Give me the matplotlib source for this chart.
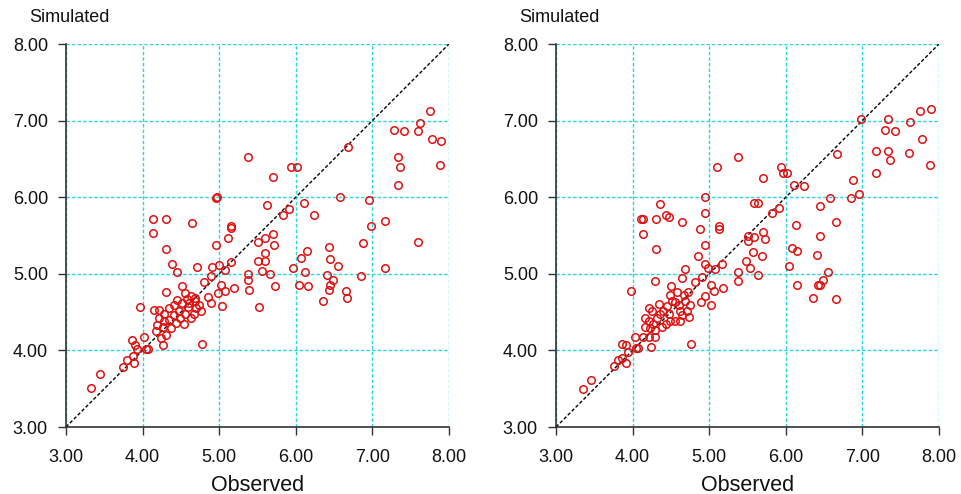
import numpy as np
import matplotlib
matplotlib.use("Agg")
import matplotlib.pyplot as plt

plt.rcParams["font.family"] = ["Liberation Sans", "DejaVu Sans"]

# (observed, simulated) pairs
left_pts = [
    (3.33, 3.51), (3.44, 3.69), (3.75, 3.78), (3.80, 3.87), (3.87, 3.93), (3.89, 3.83),
    (3.86, 4.14), (3.90, 4.07), (3.93, 4.02), (4.05, 4.02), (4.07, 4.02), (4.02, 4.17),
    (3.97, 4.57), (4.31, 5.33), (4.96, 5.37), (5.11, 5.47), (5.15, 5.60),
    (5.15, 5.62), (5.37, 6.52), (4.96, 5.99), (4.97, 6.00), (5.63, 5.90), (4.13, 5.72),
    (4.31, 5.72), (4.14, 5.53), (4.64, 5.66),
    (4.38, 5.13), (4.45, 5.02), (4.71, 5.09), (4.91, 5.09), (5.00, 5.12), (5.07, 5.05),
    (5.16, 5.15), (4.89, 4.97), (4.80, 4.89), (5.03, 4.86), (5.19, 4.81), (5.07, 4.77),
    (4.98, 4.75), (5.38, 5.00), (5.38, 4.92), (5.39, 4.79), (5.04, 4.58), (4.89, 4.62),
    (4.86, 4.70), (4.51, 4.84), (4.30, 4.76), (4.55, 4.75), (4.63, 4.71), (4.69, 4.64),
    (4.74, 4.59), (4.76, 4.51), (4.67, 4.48), (4.59, 4.57), (4.52, 4.62), (4.45, 4.66),
    (4.41, 4.59), (4.34, 4.55), (4.28, 4.48), (4.21, 4.42), (4.15, 4.53), (4.19, 4.33),
    (4.26, 4.31), (4.35, 4.40), (4.41, 4.46), (4.49, 4.42), (4.56, 4.48), (4.63, 4.42),
    (4.54, 4.35), (4.37, 4.29), (4.31, 4.20), (4.24, 4.16), (4.17, 4.25), (4.26, 4.07),
    (4.77, 4.08), (4.22, 4.53), (4.47, 4.52), (4.60, 4.62), (4.70, 4.55), (4.44, 4.36),
    (4.28, 4.38), (4.68, 4.68), (4.58, 4.67),
    (5.83, 5.77), (5.91, 5.85), (6.11, 5.92), (6.24, 5.77), (6.98, 5.63), (7.17, 5.69),
    (7.60, 5.42), (7.17, 5.07), (5.51, 5.42), (5.60, 5.47), (5.70, 5.52), (5.71, 5.38),
    (5.60, 5.27), (5.51, 5.17), (5.60, 5.17), (5.56, 5.04), (5.66, 5.00), (5.73, 4.84),
    (5.52, 4.57), (5.96, 5.07), (6.07, 5.20), (6.14, 5.30), (6.12, 5.03), (6.04, 4.86),
    (6.16, 4.84), (6.43, 5.35), (6.45, 5.19), (6.55, 5.10), (6.41, 4.99), (6.49, 4.92),
    (6.45, 4.85), (6.43, 4.79), (6.65, 4.78), (6.67, 4.68), (6.35, 4.65), (6.88, 5.40),
    (6.85, 4.97),
    (7.75, 7.12), (7.62, 6.97), (7.59, 6.86), (7.28, 6.88), (7.41, 6.86), (7.78, 6.76),
    (7.90, 6.74), (6.68, 6.65), (7.34, 6.52), (7.36, 6.40), (7.88, 6.42), (7.34, 6.16),
    (5.94, 6.40), (6.01, 6.40), (5.70, 6.26), (6.58, 6.00), (6.95, 5.96),
]

right_pts = [
    (3.35, 3.49), (3.46, 3.61), (3.76, 3.79), (3.81, 3.88), (3.86, 3.90), (3.91, 3.84),
    (3.94, 3.98), (3.86, 4.09), (3.91, 4.07), (4.03, 4.17), (4.05, 4.03), (4.07, 4.03),
    (4.14, 4.17), (4.24, 4.04), (4.29, 4.17), (4.21, 4.18), (4.76, 4.08), (3.98, 4.77),
    (4.14, 5.52), (4.31, 5.33), (4.29, 4.91), (4.69, 5.06), (4.65, 4.94), (4.50, 4.84),
    (4.86, 5.23), (4.94, 5.38), (4.95, 5.13), (4.99, 5.08), (5.07, 5.06), (5.17, 5.13),
    (4.81, 4.89), (4.90, 4.96), (5.03, 4.86), (5.06, 4.77), (4.95, 4.71), (4.89, 4.63),
    (5.02, 4.59), (5.18, 4.81), (5.37, 5.02), (5.37, 4.91), (5.50, 5.43),
    (4.21, 4.55), (4.25, 4.52), (4.16, 4.42), (4.21, 4.39), (4.16, 4.31), (4.23, 4.29),
    (4.27, 4.35), (4.32, 4.42), (4.36, 4.48), (4.34, 4.61), (4.40, 4.52), (4.45, 4.58),
    (4.47, 4.48), (4.49, 4.39), (4.43, 4.35), (4.38, 4.31), (4.29, 4.26), (4.51, 4.65),
    (4.56, 4.63), (4.60, 4.59), (4.62, 4.52), (4.64, 4.46), (4.71, 4.52), (4.73, 4.43),
    (4.69, 4.65), (4.67, 4.72), (4.72, 4.76), (4.75, 4.59), (4.58, 4.76), (4.56, 4.39),
    (4.62, 4.39), (4.49, 4.72),
    (5.38, 6.53), (5.10, 6.40), (5.94, 6.40), (5.96, 6.31), (6.01, 6.31), (5.70, 6.25),
    (4.95, 6.00), (4.95, 5.80), (4.36, 5.91), (4.44, 5.77), (4.47, 5.74), (4.31, 5.72),
    (4.11, 5.72), (4.13, 5.72), (4.64, 5.68), (4.88, 5.58), (5.13, 5.62), (5.13, 5.59),
    (5.59, 5.93), (5.64, 5.92), (5.82, 5.80), (5.91, 5.86), (5.70, 5.55), (5.59, 5.48),
    (5.51, 5.49), (5.73, 5.45),
    (6.98, 7.02), (7.34, 7.02), (7.75, 7.13), (7.90, 7.15), (7.62, 6.98), (7.29, 6.88),
    (7.42, 6.86), (7.78, 6.76), (7.18, 6.60), (7.34, 6.60), (7.36, 6.49), (7.61, 6.58),
    (7.88, 6.42), (7.18, 6.31), (6.67, 6.56), (6.88, 6.22), (6.95, 6.04), (6.85, 5.99),
    (6.58, 5.99), (6.44, 5.89), (6.65, 5.68), (6.13, 5.64), (6.45, 5.50), (6.11, 6.16),
    (6.24, 6.14),
    (6.08, 5.34), (6.14, 5.30), (6.41, 5.25), (6.04, 5.10), (6.55, 5.02), (6.49, 4.92),
    (6.42, 4.85), (6.45, 4.85), (6.15, 4.85), (6.35, 4.68), (6.66, 4.67), (5.57, 5.28),
    (5.69, 5.23), (5.48, 5.17), (5.53, 5.07), (5.64, 4.99),
]

ticks = [3, 4, 5, 6, 7, 8]
tick_labels = ["3.00", "4.00", "5.00", "6.00", "7.00", "8.00"]

fig = plt.figure(figsize=(9.62, 4.94), dpi=100)
ax_left = fig.add_axes([66 / 962, 67 / 494, 383 / 962, 383 / 494])
ax_right = fig.add_axes([556 / 962, 67 / 494, 383 / 962, 383 / 494])

for ax, pts in [(ax_left, left_pts), (ax_right, right_pts)]:
    obs = np.array([p[0] for p in pts])
    sim = np.array([p[1] for p in pts])
    ax.set_xlim(3, 8)
    ax.set_ylim(3, 8)
    ax.set_xticks(ticks)
    ax.set_yticks(ticks)
    ax.set_xticklabels(tick_labels)
    ax.set_yticklabels(tick_labels)
    ax.grid(True, color="#2ad6e0", linestyle=(0, (2.5, 1.5)), linewidth=1.0)
    ax.set_axisbelow(True)
    for s in ["top", "right"]:
        ax.spines[s].set_visible(False)
    for s in ["left", "bottom"]:
        ax.spines[s].set_color("#333333")
        ax.spines[s].set_linewidth(1.2)
    ax.tick_params(direction="out", length=6, width=1, color="#333333",
                   labelsize=13, labelcolor="#111111")
    ax.tick_params(axis="x", pad=10)
    ax.tick_params(axis="y", pad=7)
    ax.plot([3, 8], [3, 8], color="black", linestyle=(0, (2.5, 1.5)), linewidth=1.0, zorder=2)
    ax.plot(obs, sim, linestyle="none", marker="o", markersize=5.4,
            markerfacecolor="none", markeredgecolor="#e01010", markeredgewidth=1.1,
            zorder=3, clip_on=False)
    ax.set_xlabel("Observed", fontsize=15.5, labelpad=6, color="#111111")
    ax.text(0.01, 1.057, "Simulated", transform=ax.transAxes, ha="center",
            va="baseline", fontsize=13, color="#111111")

fig.savefig("out.png", dpi=100)
